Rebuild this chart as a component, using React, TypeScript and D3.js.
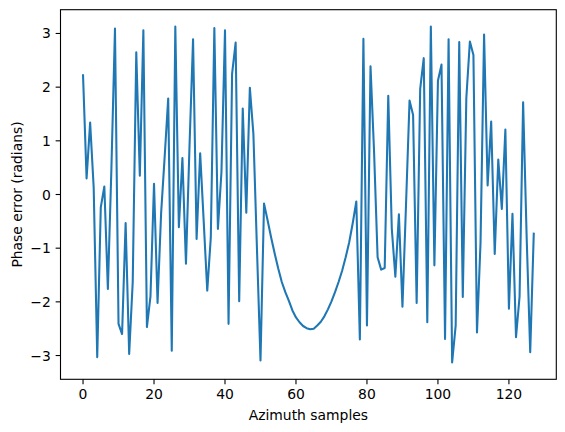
import React from "react";
import * as d3 from "d3";

const phaseError: number[] = [
  2.22, 0.3, 1.34, 0.13, -3.03, -0.24, 0.15, -1.76, 0.5, 3.09,
  -2.41, -2.6, -0.53, -2.97, -1.63, 2.65, 0.35, 3.06, -2.47, -1.9,
  0.2, -2.02, -0.35, 0.7, 1.79, -2.91, 3.13, -0.61, 0.68, -1.29,
  0.9, 2.89, -0.83, 0.77, -0.5, -1.79, -0.8, 3.1, -0.64, 0.42,
  3.06, -2.41, 2.25, 2.83, -1.99, 1.6, -0.34, 1.99, 1.13, -1.0,
  -3.09, -0.17, -0.48, -0.8, -1.1, -1.38, -1.63, -1.82, -1.98, -2.16,
  -2.29, -2.38, -2.45, -2.49, -2.51, -2.5, -2.44, -2.37, -2.27, -2.14,
  -1.99, -1.82, -1.63, -1.42, -1.17, -0.89, -0.53, -0.13, -2.7, 2.9,
  -2.44, 2.39, 0.8, -1.17, -1.4, -1.37, 1.84, -0.64, -1.53, -0.37,
  -2.09, -0.2, 1.75, 1.48, -2.02, 1.97, 2.54, -2.38, 3.13, -1.32,
  2.12, 2.42, -2.69, 2.89, -3.13, -2.44, 2.84, -1.91, 1.8, 2.85,
  2.6, -2.57, -0.9, 2.98, 0.17, 1.36, -1.11, 0.65, -0.27, 1.21,
  -2.13, -0.36, -2.66, -1.9, 1.72, -0.8, -2.94, -0.73,
];
const sampleIdx: number[] = phaseError.map((_, i) => i);
const xTicks: number[] = [0, 20, 40, 60, 80, 100, 120];
const yTicks: number[] = [-3, -2, -1, 0, 1, 2, 3];
const xLabel = "Azimuth samples";
const yLabel = "Phase error (radians)";

const W = 565;
const H = 432;
const L = 60.5;
const R = 556.3;
const T = 9.7;
const B = 379.3;
const FONT = "DejaVu Sans, sans-serif";
const FS = 13.9;
const TICK = 4.86;
const PAD = 4.86;

const fmt = (v: number) => (v < 0 ? "\u2212" + Math.abs(v) : String(v));

export default function App() {
  const xmin = d3.min(sampleIdx) as number;
  const xmax = d3.max(sampleIdx) as number;
  const xm = (xmax - xmin) * 0.05;
  const ymin = d3.min(phaseError) as number;
  const ymax = d3.max(phaseError) as number;
  const ym = (ymax - ymin) * 0.05;
  const x = d3.scaleLinear().domain([xmin - xm, xmax + xm]).range([L, R]);
  const y = d3.scaleLinear().domain([ymin - ym, ymax + ym]).range([B, T]);
  const line = d3
    .line<number>()
    .x((_, i) => x(sampleIdx[i]))
    .y((d) => y(d));

  return (
    <svg
      width={W}
      height={H}
      style={{ position: "absolute", left: 0, top: 0, background: "#fff" }}
      fontFamily={FONT}
    >
      <rect x={0} y={0} width={W} height={H} fill="#fff" />
      <defs>
        <clipPath id="plotclip">
          <rect x={L} y={T} width={R - L} height={B - T} />
        </clipPath>
      </defs>
      <path
        d={line(phaseError) || ""}
        fill="none"
        stroke="#1f77b4"
        strokeWidth={2.08}
        strokeLinejoin="round"
        strokeLinecap="square"
        clipPath="url(#plotclip)"
      />
      <rect
        x={L}
        y={T}
        width={R - L}
        height={B - T}
        fill="none"
        stroke="#000"
        strokeWidth={1.1}
      />
      {xTicks.map((t) => (
        <g key={"x" + t}>
          <line x1={x(t)} x2={x(t)} y1={B} y2={B + TICK} stroke="#000" strokeWidth={1.1} />
          <text
            x={x(t)}
            y={B + TICK + PAD + 10.4}
            textAnchor="middle"
            fontSize={FS}
            fill="#000"
          >
            {fmt(t)}
          </text>
        </g>
      ))}
      {yTicks.map((t) => (
        <g key={"y" + t}>
          <line x1={L - TICK} x2={L} y1={y(t)} y2={y(t)} stroke="#000" strokeWidth={1.1} />
          <text
            x={L - TICK - PAD}
            y={y(t)}
            textAnchor="end"
            dominantBaseline="central"
            fontSize={FS}
            fill="#000"
          >
            {fmt(t)}
          </text>
        </g>
      ))}
      <text
        x={(L + R) / 2}
        y={419.5}
        textAnchor="middle"
        fontSize={FS}
        fill="#000"
      >
        {xLabel}
      </text>
      <text
        transform={`translate(17.3, ${(T + B) / 2}) rotate(-90)`}
        textAnchor="middle"
        dominantBaseline="central"
        fontSize={FS}
        fill="#000"
      >
        {yLabel}
      </text>
    </svg>
  );
}
